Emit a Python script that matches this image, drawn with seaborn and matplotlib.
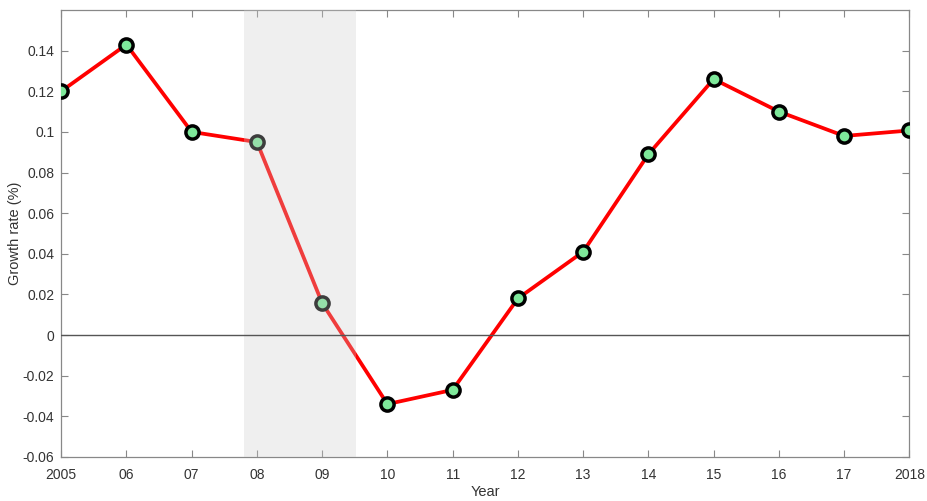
import matplotlib
matplotlib.use("Agg")
import matplotlib.pyplot as plt
import seaborn as sns
import numpy as np
import pandas as pd

sns.set_theme(style="white")
plt.rcParams['font.family'] = ['Liberation Sans', 'DejaVu Sans']

# data
years = [2005, 2006, 2007, 2008, 2009, 2010, 2011, 2012, 2013, 2014, 2015, 2016, 2017, 2018]
growth = [0.120, 0.143, 0.100, 0.095, 0.0157, -0.034, -0.027, 0.018, 0.041, 0.089, 0.126, 0.110, 0.098, 0.1007]
tick_labels = ["2005", "06", "07", "08", "09", "10", "11", "12", "13", "14", "15", "16", "17", "2018"]
y_ticks = [-0.06, -0.04, -0.02, 0, 0.02, 0.04, 0.06, 0.08, 0.1, 0.12, 0.14]
y_tick_labels = ["-0.06", "-0.04", "-0.02", "0", "0.02", "0.04", "0.06", "0.08", "0.1", "0.12", "0.14"]
shade = (2007.8, 2009.52)

df = pd.DataFrame({"Year": years, "Growth": growth})

fig, ax = plt.subplots(figsize=(9.27, 5.01), dpi=100)
fig.subplots_adjust(left=0.066, right=0.981, top=0.98, bottom=0.088)

sns.lineplot(data=df, x="Year", y="Growth", ax=ax, color="#ff0000", linewidth=2.7,
             marker="o", markersize=9.5, markerfacecolor="#7ee89a",
             markeredgecolor="black", markeredgewidth=2.5, zorder=3)

# recession shading drawn over the line
ax.axvspan(shade[0], shade[1], color="#cccccc", alpha=0.3, linewidth=0, zorder=4)
ax.axhline(0, color="#555555", linewidth=1.0, zorder=5)

ax.set_xlim(2005, 2018)
ax.set_ylim(-0.06, 0.16)
ax.set_xticks(years)
ax.set_xticklabels(tick_labels)
ax.set_yticks(y_ticks)
ax.set_yticklabels(y_tick_labels)

ax.tick_params(direction="in", length=5, width=0.8, color="#888888",
               labelsize=10, labelcolor="#333333", top=True, right=True,
               bottom=True, left=True)
ax.tick_params(axis="x", pad=8)
ax.tick_params(axis="y", pad=5)
for s in ax.spines.values():
    s.set_color("#888888")
    s.set_linewidth(0.9)

ax.set_xlabel("Year", fontsize=10.5, color="#333333", labelpad=2)
ax.set_ylabel("Growth rate (%)", fontsize=10.5, color="#333333")
ax.yaxis.set_label_coords(-0.046, 0.5)

fig.savefig("out.png", dpi=100)
